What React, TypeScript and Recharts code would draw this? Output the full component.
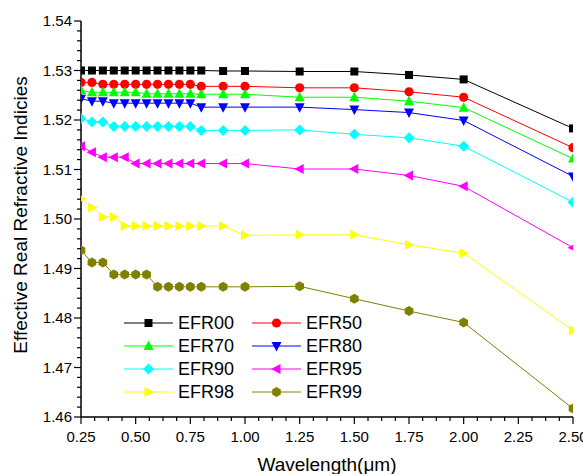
import React from 'react';
import { LineChart, Line, XAxis, YAxis, Legend, Label } from 'recharts';

const wavelength = [0.25, 0.30, 0.35, 0.40, 0.45, 0.50, 0.55, 0.60, 0.65, 0.70, 0.75, 0.80, 0.90, 1.00, 1.25, 1.50, 1.75, 2.00, 2.50];

const EFR00 = [1.5300, 1.5300, 1.5300, 1.5300, 1.5300, 1.5300, 1.5300, 1.5300, 1.5300, 1.5300, 1.5300, 1.5300, 1.5299, 1.5299, 1.5298, 1.5298, 1.5291, 1.5282, 1.5183];
const EFR50 = [1.5276, 1.5276, 1.5272, 1.5272, 1.5272, 1.5272, 1.5272, 1.5272, 1.5272, 1.5272, 1.5272, 1.5268, 1.5268, 1.5268, 1.5265, 1.5265, 1.5257, 1.5246, 1.5144];
const EFR70 = [1.5260, 1.5256, 1.5256, 1.5256, 1.5256, 1.5256, 1.5253, 1.5253, 1.5253, 1.5253, 1.5253, 1.5252, 1.5252, 1.5252, 1.5246, 1.5246, 1.5238, 1.5225, 1.5122];
const EFR80 = [1.5243, 1.5238, 1.5238, 1.5234, 1.5234, 1.5234, 1.5234, 1.5234, 1.5234, 1.5234, 1.5234, 1.5226, 1.5226, 1.5226, 1.5226, 1.5221, 1.5215, 1.5199, 1.5086];
const EFR90 = [1.5203, 1.5196, 1.5196, 1.5187, 1.5187, 1.5187, 1.5187, 1.5187, 1.5187, 1.5187, 1.5187, 1.5179, 1.5179, 1.5179, 1.5180, 1.5171, 1.5164, 1.5147, 1.5034];
const EFR95 = [1.5147, 1.5135, 1.5125, 1.5125, 1.5125, 1.5112, 1.5112, 1.5112, 1.5112, 1.5112, 1.5112, 1.5112, 1.5112, 1.5112, 1.5101, 1.5101, 1.5088, 1.5066, 1.4942];
const EFR98 = [1.5041, 1.5023, 1.5004, 1.5004, 1.4986, 1.4986, 1.4986, 1.4986, 1.4986, 1.4986, 1.4986, 1.4986, 1.4986, 1.4967, 1.4968, 1.4968, 1.4948, 1.4931, 1.4775];
const EFR99 = [1.4937, 1.4912, 1.4912, 1.4888, 1.4888, 1.4888, 1.4888, 1.4863, 1.4863, 1.4863, 1.4863, 1.4863, 1.4863, 1.4863, 1.4864, 1.4839, 1.4814, 1.4791, 1.4617];

const xMajorTicks = [0.25, 0.50, 0.75, 1.00, 1.25, 1.50, 1.75, 2.00, 2.25, 2.50];
const yMajorTicks = [1.46, 1.47, 1.48, 1.49, 1.50, 1.51, 1.52, 1.53, 1.54];
const xMinorPerMajor = 4;
const yMinorPerMajor = 5;

const xTitle = 'Wavelength(\u03bcm)';
const yTitle = 'Effective Real Refractive Indicies';

const FONT = 'Arial, "Liberation Sans", Helvetica, sans-serif';

type Shape = 'square' | 'circle' | 'up' | 'down' | 'diamond' | 'left' | 'right' | 'hexagon';

const seriesDefs: { key: string; values: number[]; color: string; shape: Shape }[] = [
  { key: 'EFR00', values: EFR00, color: '#000000', shape: 'square' },
  { key: 'EFR50', values: EFR50, color: '#ff0000', shape: 'circle' },
  { key: 'EFR70', values: EFR70, color: '#00ff00', shape: 'up' },
  { key: 'EFR80', values: EFR80, color: '#0000ff', shape: 'down' },
  { key: 'EFR90', values: EFR90, color: '#00ffff', shape: 'diamond' },
  { key: 'EFR95', values: EFR95, color: '#ff00ff', shape: 'left' },
  { key: 'EFR98', values: EFR98, color: '#ffff00', shape: 'right' },
  { key: 'EFR99', values: EFR99, color: '#808000', shape: 'hexagon' },
];

const data = wavelength.map((w, i) => {
  const row: Record<string, number> = { w };
  seriesDefs.forEach((s) => {
    row[s.key] = s.values[i];
  });
  return row;
});

const buildTicks = (majors: number[], per: number) => {
  const out: number[] = [];
  for (let i = 0; i < majors.length; i++) {
    out.push(majors[i]);
    if (i < majors.length - 1) {
      const step = (majors[i + 1] - majors[i]) / per;
      for (let k = 1; k < per; k++) out.push(+(majors[i] + k * step).toFixed(5));
    }
  }
  return out;
};
const xTicks = buildTicks(xMajorTicks, xMinorPerMajor);
const yTicks = buildTicks(yMajorTicks, yMinorPerMajor);
const isMajor = (v: number, majors: number[]) => majors.some((m) => Math.abs(m - v) < 1e-6);

const Marker = ({ shape, cx, cy, color }: { shape: Shape; cx: number; cy: number; color: string }) => {
  const s = 5;
  switch (shape) {
    case 'square':
      return <rect x={cx - 4} y={cy - 4} width={8} height={8} fill={color} />;
    case 'circle':
      return <circle cx={cx} cy={cy} r={4.6} fill={color} />;
    case 'up':
      return <polygon points={`${cx},${cy - s - 0.5} ${cx + s},${cy + s - 1} ${cx - s},${cy + s - 1}`} fill={color} />;
    case 'down':
      return <polygon points={`${cx},${cy + s + 0.5} ${cx + s},${cy - s + 1} ${cx - s},${cy - s + 1}`} fill={color} />;
    case 'diamond':
      return <polygon points={`${cx},${cy - 5.5} ${cx + 5.5},${cy} ${cx},${cy + 5.5} ${cx - 5.5},${cy}`} fill={color} />;
    case 'left':
      return <polygon points={`${cx - s - 0.5},${cy} ${cx + s - 1},${cy - s} ${cx + s - 1},${cy + s}`} fill={color} />;
    case 'right':
      return <polygon points={`${cx + s + 0.5},${cy} ${cx - s + 1},${cy - s} ${cx - s + 1},${cy + s}`} fill={color} />;
    case 'hexagon': {
      const r = 5;
      const pts = [0, 1, 2, 3, 4, 5]
        .map((k) => {
          const a = (Math.PI / 3) * k + Math.PI / 6;
          return `${cx + r * Math.cos(a)},${cy + r * Math.sin(a)}`;
        })
        .join(' ');
      return <polygon points={pts} fill={color} />;
    }
    default:
      return null;
  }
};

const XTick = (props: any) => {
  const { x, y, payload } = props;
  const major = isMajor(payload.value, xMajorTicks);
  return (
    <g>
      <line x1={x} y1={y} x2={x} y2={y + (major ? 7 : 4)} stroke="#000" strokeWidth={1.2} />
      {major && (
        <text x={x} y={y + 25} textAnchor="middle" fontSize={15} fontFamily={FONT} fill="#000">
          {payload.value.toFixed(2)}
        </text>
      )}
    </g>
  );
};

const YTick = (props: any) => {
  const { x, y, payload } = props;
  const major = isMajor(payload.value, yMajorTicks);
  return (
    <g>
      <line x1={x} y1={y} x2={x - (major ? 7 : 4)} y2={y} stroke="#000" strokeWidth={1.2} />
      {major && (
        <text x={x - 9} y={y} dy="0.36em" textAnchor="end" fontSize={15} fontFamily={FONT} fill="#000">
          {payload.value.toFixed(2)}
        </text>
      )}
    </g>
  );
};

const LegendContent = () => {
  const rowH = 23;
  return (
    <svg width={270} height={100} style={{ display: 'block', overflow: 'visible' }}>
      {seriesDefs.map((s, i) => {
        const col = i % 2;
        const row = Math.floor(i / 2);
        const x0 = col === 0 ? 4 : 132;
        const cy = 13 + row * rowH;
        return (
          <g key={s.key}>
            <line x1={x0} y1={cy} x2={x0 + 49} y2={cy} stroke={s.color} strokeWidth={1} />
            <Marker shape={s.shape} cx={x0 + 24.5} cy={cy} color={s.color} />
            <text x={x0 + 54} y={cy} dy="0.36em" fontSize={18} fontFamily={FONT} fill="#000">
              {s.key}
            </text>
          </g>
        );
      })}
    </svg>
  );
};

export default function App() {
  return (
    <div style={{ position: 'absolute', left: 0, top: 0, width: 583, height: 474, background: '#fff' }}>
      <LineChart width={583} height={474} data={data} margin={{ top: 21, right: 10, bottom: 0, left: 0 }}>
        <XAxis
          dataKey="w"
          type="number"
          domain={[0.25, 2.5]}
          ticks={xTicks}
          interval={0}
          tick={<XTick />}
          tickLine={false}
          tickSize={0}
          tickMargin={0}
          axisLine={{ stroke: '#000', strokeWidth: 1.5 }}
          height={57}
          allowDataOverflow
        >
          <Label
            content={() => (
              <text x={327} y={471} textAnchor="middle" fontSize={19} fontFamily={FONT} fill="#000">
                {xTitle}
              </text>
            )}
          />
        </XAxis>
        <YAxis
          type="number"
          domain={[1.46, 1.54]}
          ticks={yTicks}
          interval={0}
          tick={<YTick />}
          tickLine={false}
          tickSize={0}
          tickMargin={0}
          axisLine={{ stroke: '#000', strokeWidth: 1.5 }}
          width={81}
          allowDataOverflow
        >
          <Label
            content={() => (
              <text
                x={27}
                y={215}
                transform="rotate(-90 27 215)"
                textAnchor="middle"
                fontSize={19}
                fontFamily={FONT}
                fill="#000"
              >
                {yTitle}
              </text>
            )}
          />
        </YAxis>
        {seriesDefs.map((s) => (
          <Line
            key={s.key}
            dataKey={s.key}
            stroke={s.color}
            strokeWidth={1}
            isAnimationActive={false}
            dot={(p: any) => <Marker key={`${s.key}-${p.index}`} shape={s.shape} cx={p.cx} cy={p.cy} color={s.color} />}
            activeDot={false}
          />
        ))}
        <Legend
          layout="vertical"
          align="center"
          verticalAlign="middle"
          content={<LegendContent />}
          wrapperStyle={{ position: 'absolute', left: 120, top: 310, width: 270, height: 100, bottom: 'auto', right: 'auto' }}
        />
      </LineChart>
    </div>
  );
}
